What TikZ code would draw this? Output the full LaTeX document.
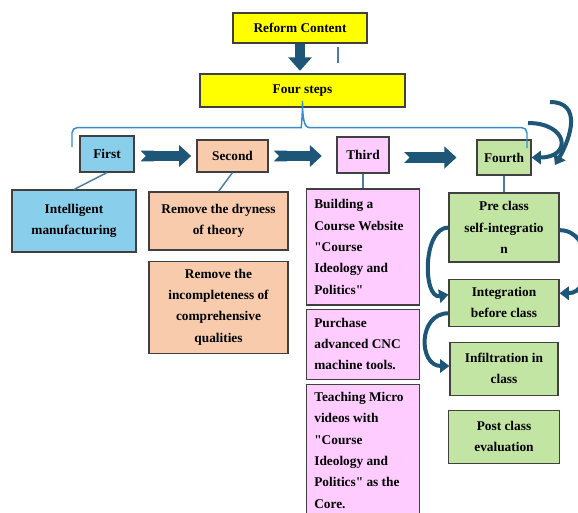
\documentclass[tikz,border=0pt]{standalone}
\usepackage{fontspec}
\setmainfont{Liberation Serif}
\usepackage{tikz}
\usetikzlibrary{arrows.meta, positioning}
\definecolor{topfill}{RGB}{255,255,0}
\definecolor{skyfill}{RGB}{137,207,236}
\definecolor{salmonfill}{RGB}{248,203,173}
\definecolor{pinkfill}{RGB}{255,204,255}
\definecolor{greenfill}{RGB}{194,229,163}
\definecolor{arrowblue}{RGB}{30,86,120}
\definecolor{linkblue}{RGB}{75,125,160}
\definecolor{bracketblue}{RGB}{55,140,205}
\tikzstyle{box} = [rectangle, draw=black!75, line width=0.8pt,
    text centered, align=center, inner sep=3pt,
    font=\fontsize{10}{16}\selectfont\bfseries]
\tikzstyle{topbox}    = [box, fill=topfill]
\tikzstyle{firstbox}  = [box, fill=skyfill]
\tikzstyle{secondbox} = [box, fill=salmonfill]
\tikzstyle{thirdbox}  = [box, fill=pinkfill]
\tikzstyle{thirdtext} = [thirdbox, align=flush left, text width=73pt, inner xsep=6pt]
\tikzstyle{fourthbox} = [box, fill=greenfill]
\tikzstyle{steparrow} = [{Triangle Cap[reversed]}-{Triangle[width=16pt,length=9pt]},
    line width=8pt, draw=arrowblue]
\tikzstyle{downarrow} = [-{Triangle[width=17pt,length=10pt]}, line width=7.5pt, draw=arrowblue]
\tikzstyle{curvearrow}= [-{Triangle[width=10pt,length=7pt]}, line width=3pt, draw=arrowblue]
\tikzstyle{link}      = [draw=linkblue, line width=1.1pt]
\tikzstyle{bracket}   = [draw=bracketblue, line width=1.1pt]
\newcommand{\dq}{\textquotedbl}

\begin{document}
\begin{tikzpicture}[x=0.75pt, y=-0.75pt]
  \useasboundingbox (0,0) rectangle (578,512);

  % Top
  \node[topbox, minimum width=100.5pt, minimum height=22.5pt] (reform) at (300,28) {Reform Content};
  \node[topbox, minimum width=153.75pt, minimum height=24.75pt] (four) at (302.5,90.5) {Four steps};

  % Steps
  \node[firstbox, minimum width=40.5pt, minimum height=27pt]     (first)  at (107,154)   {First};
  \node[secondbox, minimum width=53.25pt, minimum height=24pt]   (second) at (232.5,156) {Second};
  \node[thirdbox, minimum width=39pt, minimum height=27pt]       (third)  at (363,155)   {Third};
  \node[fourthbox, minimum width=40.5pt, minimum height=26.25pt] (fourth) at (504,157.5) {Fourth};

  % First column
  \node[firstbox, minimum width=93pt, minimum height=46.5pt] (intel) at (74,221) {Intelligent\\manufacturing};

  % Second column
  \node[secondbox, minimum width=104.25pt, minimum height=43.5pt] (dry) at (218.5,221) {Remove the dryness\\of theory};
  \node[secondbox, minimum width=104.25pt, minimum height=69pt, below=7.5pt of dry] (incomp)
    {Remove the\\incompleteness of\\comprehensive\\qualities};

  % Third column
  \node[thirdtext, minimum height=87pt] (build) at (363,247)
    {Building a\\Course Website\\\dq Course\\Ideology and\\Politics\dq};
  \node[thirdtext, minimum height=52.5pt, below=2.25pt of build] (purchase)
    {Purchase\\advanced CNC\\machine tools.};
  \node[thirdtext, inner ysep=6pt, below=3pt of purchase] (teach)
    {Teaching Micro\\videos with\\\dq Course\\Ideology and\\Politics\dq{} as the\\Core.\\ \mbox{}};

  % Fourth column
  \node[fourthbox, minimum width=82.5pt, minimum height=51.75pt] (pre) at (504,227.5) {Pre class\\self-integratio\\n};
  \node[fourthbox, minimum width=82.5pt, minimum height=35.25pt, below=12pt of pre] (integ) {Integration\\before class};
  \node[fourthbox, minimum width=81pt, minimum height=39.75pt, below=11.25pt of integ] (infil) {Infiltration in\\class};
  \node[fourthbox, minimum width=83.25pt, minimum height=39.75pt, below=10.5pt of infil] (post) {Post class\\evaluation};

  \coordinate (stray) at (338,47);
  \coordinate (braceL) at (72,147);
  \coordinate (braceR) at (527,148);
  \coordinate (loopA) at (528,123);
  \coordinate (loopB) at (550,102);
  \coordinate (loopC) at (555,165);

  \draw[downarrow, shorten >=2pt] (reform.south) -- (reform.south |- four.north);
  \draw[link] (stray) -- ++(0,16);
  \draw[bracket, rounded corners=4pt] (braceL) |- ([xshift=-5pt,yshift=-15pt]four.south)
    [sharp corners] .. controls +(4pt,0pt) and +(0pt,-12pt) .. ([yshift=5pt]four.south)
    .. controls +(0pt,-12pt) and +(-4pt,0pt) .. ([xshift=5pt,yshift=-15pt]four.south)
    [rounded corners=4pt] -| (braceR);

  \draw[steparrow, shorten <=4.5pt, shorten >=4pt] (first.east |- second.west) -- (second.west);
  \draw[steparrow, shorten <=4pt, shorten >=11pt] (second.east) -- (second.east -| third.west);
  \draw[steparrow, shorten <=11pt, shorten >=15pt] (third.east |- fourth.west) -- (fourth.west);

  \draw[link](first.south) -- (intel.north);
  \draw[link](second.south) -- (dry.north);
  \draw[link](third.south) -- (build.north);
  \draw[link](fourth.south) -- (pre.north);

  \draw[curvearrow] (pre.west) to[out=180, in=190] ([yshift=6pt]integ.west);
  \draw[curvearrow] ([yshift=-8pt]integ.west) to[out=180, in=180, looseness=1.5] ([yshift=2pt]infil.west);
  \draw[curvearrow] ([yshift=-2pt]pre.east) to[out=0, in=0, looseness=1.4] ([yshift=7pt]integ.east);
  \draw[curvearrow] (loopA) to[out=0, in=0, looseness=3] (fourth.east);
  \draw[curvearrow] (loopB) to[out=0, in=60, looseness=1.3] (loopC);
\end{tikzpicture}
\end{document}
